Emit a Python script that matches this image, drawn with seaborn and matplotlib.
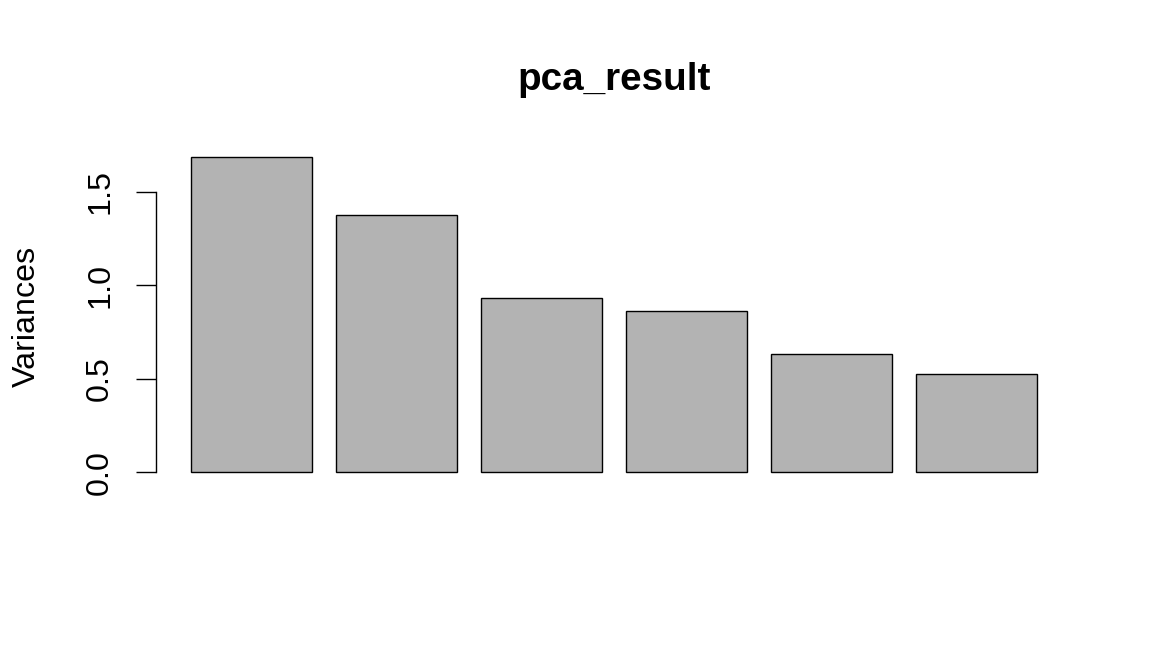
import matplotlib
matplotlib.use("Agg")
import matplotlib.pyplot as plt
import seaborn as sns
import pandas as pd

# variances of the principal components
components = ['PC1', 'PC2', 'PC3', 'PC4', 'PC5', 'PC6']
variances = [1.685, 1.375, 0.932, 0.862, 0.632, 0.525]
y_ticks = [0.0, 0.5, 1.0, 1.5]
y_tick_labels = ['0.0', '0.5', '1.0', '1.5']

df = pd.DataFrame({'component': components, 'variance': variances})

sns.set_style('white')
plt.rcParams['font.family'] = ['Liberation Sans', 'DejaVu Sans']
plt.rcParams['text.color'] = 'black'
plt.rcParams['axes.labelcolor'] = 'black'
plt.rcParams['ytick.color'] = 'black'

fig = plt.figure(figsize=(11.52, 6.72), dpi=100)
ax = fig.add_axes([156 / 1152, 1 - 484.9 / 672, 940 / 1152, 340.4 / 672])

sns.barplot(data=df, x='component', y='variance', color='#B3B3B3',
            edgecolor='black', linewidth=1.0, width=0.834, saturation=1,
            ax=ax)

ax.set_xlim(-0.658, 5.823)
ymax = max(variances)
ax.set_ylim(-0.04 * ymax, 1.04 * ymax)

ax.set_xticks([])
ax.set_xlabel('')
ax.set_yticks(y_ticks)
ax.set_yticklabels(y_tick_labels, rotation=90, va='center', fontsize=23.2,
                   color='black')
ax.tick_params(axis='y', length=14.4, width=1.0, pad=15, color='black',
               left=True)

for s in ['top', 'right', 'bottom']:
    ax.spines[s].set_visible(False)
ax.spines['left'].set_bounds(0, 1.5)
ax.spines['left'].set_linewidth(1.0)
ax.spines['left'].set_color('black')

ax.set_ylabel('Variances', fontsize=23.2, color='black')
ax.yaxis.set_label_coords(-0.121, 0.495)

ax.set_title('pca_result', fontsize=27.8, fontweight='bold', x=0.487,
             y=1.16, pad=0, color='black')

fig.savefig('out.png', dpi=100)
